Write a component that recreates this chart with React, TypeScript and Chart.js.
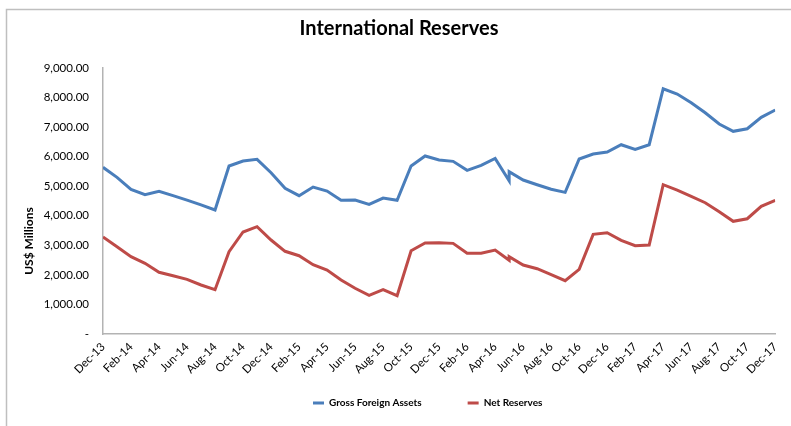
import { useEffect, useRef } from "react";
import { Chart, registerables } from "chart.js";

Chart.register(...registerables);

const tickLabels = [
  "Dec-13", "Jan-14", "Feb-14", "Mar-14", "Apr-14", "May-14", "Jun-14", "Jul-14", "Aug-14", "Sep-14", "Oct-14", "Nov-14",
  "Dec-14", "Jan-15", "Feb-15", "Mar-15", "Apr-15", "May-15", "Jun-15", "Jul-15", "Aug-15", "Sep-15", "Oct-15", "Nov-15",
  "Dec-15", "Jan-16", "Feb-16", "Mar-16", "Apr-16", "May-16", "Jun-16", "Jul-16", "Aug-16", "Sep-16", "Oct-16", "Nov-16",
  "Dec-16", "Jan-17", "Feb-17", "Mar-17", "Apr-17", "May-17", "Jun-17", "Jul-17", "Aug-17", "Sep-17", "Oct-17", "Nov-17",
  "Dec-17",
];

// Observation months (May-16 reported twice)
const months = [
  "Dec-13", "Jan-14", "Feb-14", "Mar-14", "Apr-14", "May-14", "Jun-14", "Jul-14", "Aug-14", "Sep-14", "Oct-14", "Nov-14",
  "Dec-14", "Jan-15", "Feb-15", "Mar-15", "Apr-15", "May-15", "Jun-15", "Jul-15", "Aug-15", "Sep-15", "Oct-15", "Nov-15",
  "Dec-15", "Jan-16", "Feb-16", "Mar-16", "Apr-16", "May-16", "May-16", "Jun-16", "Jul-16", "Aug-16", "Sep-16", "Oct-16",
  "Nov-16", "Dec-16", "Jan-17", "Feb-17", "Mar-17", "Apr-17", "May-17", "Jun-17", "Jul-17", "Aug-17", "Sep-17", "Oct-17",
  "Nov-17", "Dec-17",
];

const grossForeignAssets = [
  5640, 5300, 4895, 4713, 4827, 4680, 4530, 4370, 4195, 5683, 5853, 5910,
  5457, 4928, 4680, 4973, 4838, 4522, 4533, 4387, 4600, 4522, 5683, 6022,
  5886, 5842, 5537, 5706, 5943, 5187, 5491, 5210, 5051, 4900, 4793, 5920,
  6089, 6157, 6404, 6248, 6404, 8298, 8119, 7825, 7487, 7104, 6857, 6945,
  7331, 7578,
];

const netReserves = [
  3281, 2954, 2615, 2391, 2087, 1973, 1850, 1658, 1499, 2784, 3451, 3630,
  3180, 2798, 2649, 2344, 2165, 1827, 1546, 1309, 1499, 1296, 2818, 3078,
  3089, 3067, 2730, 2730, 2842, 2493, 2615, 2334, 2210, 2010, 1804, 2188,
  3372, 3428, 3170, 2988, 3011, 5051, 4871, 4658, 4442, 4137, 3813, 3900,
  4320, 4523,
];

const seriesNames = ["Gross Foreign Assets", "Net Reserves"];
const seriesColors = ["#4A7EBB", "#BE4B48"];

const FONT = "Lato, 'Liberation Sans', sans-serif";

export default function App() {
  const canvasRef = useRef<HTMLCanvasElement | null>(null);

  useEffect(() => {
    document.body.style.margin = "0";
    const canvas = canvasRef.current;
    if (!canvas) return;

    const toPoints = (vals: number[]) =>
      months.map((m, i) => ({ x: tickLabels.indexOf(m), y: vals[i] }));

    const fmt = (v: number) =>
      v === 0
        ? "-"
        : v.toLocaleString("en-US", { minimumFractionDigits: 2, maximumFractionDigits: 2 });

    const decorPlugin = {
      id: "decor",
      afterLayout(chart: any) {
        const lg = chart.legend;
        if (lg && lg.lineWidths) {
          const pad = lg.options.labels.padding;
          const cur = (lg.left + pad + lg.right - lg.lineWidths[0]) / 2;
          const dx = 313 - cur;
          lg.left += dx;
          lg.right += dx;
          const top = 398 - pad;
          lg.top = top;
          lg.height = pad + 22;
          lg.bottom = top + lg.height;
        }
      },
      beforeDraw(chart: any) {
        const ctx = chart.ctx;
        ctx.save();
        ctx.fillStyle = "#ffffff";
        ctx.fillRect(0, 0, chart.width, chart.height);
        ctx.strokeStyle = "#bfbfbf";
        ctx.lineWidth = 1.5;
        ctx.beginPath();
        ctx.moveTo(6.5, chart.height);
        ctx.lineTo(6.5, 9.5);
        ctx.lineTo(chart.width, 9.5);
        ctx.stroke();
        ctx.restore();
      },
      afterDraw(chart: any) {
        const ctx = chart.ctx;
        ctx.save();
        ctx.translate(29, 241);
        ctx.rotate(-Math.PI / 2);
        ctx.fillStyle = "#000";
        ctx.font = `bold 12px ${FONT}`;
        ctx.textAlign = "center";
        ctx.textBaseline = "middle";
        ctx.fillText("US$ Millions", 0, 0);
        ctx.restore();
      },
    };

    const chart = new Chart(canvas, {
      type: "line",
      data: {
        datasets: [
          {
            label: seriesNames[0],
            data: toPoints(grossForeignAssets),
            borderColor: seriesColors[0],
            backgroundColor: seriesColors[0],
            borderWidth: 3,
            pointRadius: 0,
            tension: 0,
          },
          {
            label: seriesNames[1],
            data: toPoints(netReserves),
            borderColor: seriesColors[1],
            backgroundColor: seriesColors[1],
            borderWidth: 3,
            pointRadius: 0,
            tension: 0,
          },
        ],
      },
      options: {
        animation: false,
        responsive: true,
        maintainAspectRatio: false,
        layout: { padding: { left: 12, right: 5, top: 0, bottom: 8 } },
        plugins: {
          title: {
            display: true,
            text: "International Reserves",
            color: "#000",
            font: { family: FONT, size: 20, weight: "bold", lineHeight: "22px" },
            padding: { top: 18, bottom: 28 },
          },
          legend: {
            position: "bottom",
            maxHeight: 44,
            labels: {
              boxWidth: 11,
              boxHeight: 3,
              padding: 46,
              color: "#000",
              font: { family: FONT, size: 10, weight: "bold" },
              generateLabels: (chart: any) =>
                chart.data.datasets.map((ds: any, i: number) => ({
                  text: ds.label,
                  fillStyle: ds.borderColor,
                  strokeStyle: ds.borderColor,
                  lineWidth: 0,
                  datasetIndex: i,
                  fontColor: "#000",
                })),
            },
          },
          tooltip: { enabled: false },
        },
        scales: {
          x: {
            type: "linear",
            min: 0,
            max: 48,
            afterFit: (s: any) => {
              s.height = 40;
            },
            ticks: {
              stepSize: 2,
              autoSkip: false,
              maxRotation: 45,
              minRotation: 45,
              padding: 6,
              color: "#000",
              font: { family: FONT, size: 11.5 },
              callback: (v: any) => tickLabels[Math.round(Number(v))] ?? "",
            },
            grid: { display: false, drawTicks: false },
            border: { display: true, color: "#b3b3b3", width: 1.5 },
          },
          y: {
            min: 0,
            max: 9000,
            afterFit: (s: any) => {
              s.width = 91;
            },
            ticks: {
              stepSize: 1000,
              padding: 14,
              color: "#000",
              font: { family: FONT, size: 11.5 },
              callback: (v: any) => fmt(Number(v)),
            },
            grid: { display: false, drawTicks: false },
            border: { display: true, color: "#b3b3b3", width: 1.5 },
          },
        },
      },
      plugins: [decorPlugin],
    } as any);

    return () => chart.destroy();
  }, []);

  return (
    <div style={{ position: "absolute", left: 0, top: 0, width: 791, height: 426 }}>
      <canvas ref={canvasRef} />
    </div>
  );
}
